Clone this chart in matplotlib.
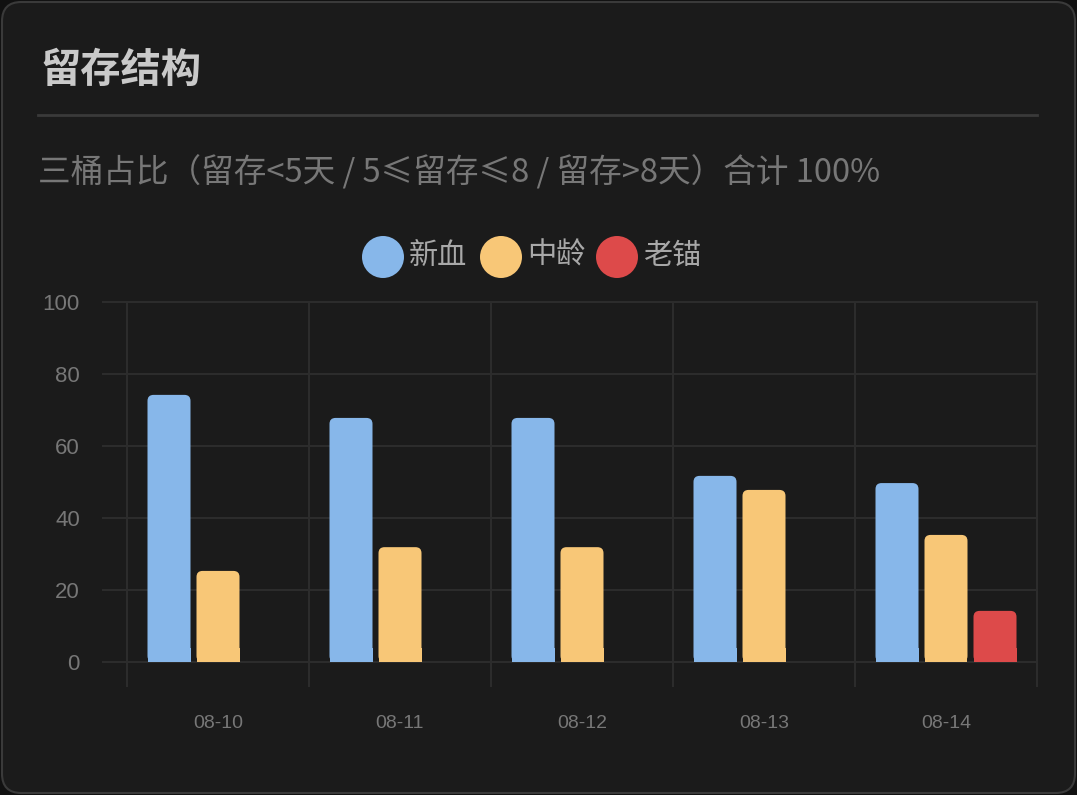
import matplotlib
matplotlib.use("Agg")
import matplotlib.pyplot as plt
from matplotlib.patches import FancyBboxPatch, Rectangle, Ellipse
from matplotlib.lines import Line2D

plt.rcParams['font.family'] = ['Noto Sans CJK SC', 'DejaVu Sans']

dates = ["08-10", "08-11", "08-12", "08-13", "08-14"]
series_names = ["新血", "中龄", "老锚"]
xinxue = [74.2, 67.8, 67.8, 51.7, 49.7]
zhongling = [25.3, 31.9, 31.9, 47.8, 35.3]
laomao = [0, 0, 0, 0, 14.2]
colors = ["#87b7ea", "#f8c777", "#dd4a4a"]

W, H = 1077, 795
fig = plt.figure(figsize=(W / 100, H / 100), dpi=100)
fig.patch.set_facecolor("#111111")

def fx(px):
    return px / W

def fy(py):
    return 1 - py / H

# card
fig.add_artist(FancyBboxPatch((fx(2), fy(793)), fx(1073), 791 / H,
                              boxstyle="round,pad=0,rounding_size=0.018",
                              transform=fig.transFigure, facecolor="#1b1b1b",
                              edgecolor="#3a3a3a", linewidth=1.5,
                              mutation_aspect=W / H, zorder=-5))
fig.text(fx(40), fy(70), "留存结构", fontsize=29, fontweight="bold",
         color="#c9c9c9", va="center", ha="left")
fig.add_artist(Line2D([fx(38), fx(1037)], [fy(115), fy(115)],
                      color="#3a3a3a", linewidth=2, transform=fig.transFigure))
fig.text(fx(38), fy(172), "三桶占比（留存<5天 / 5≤留存≤8 / 留存>8天）合计 100%",
         fontsize=23.5, color="#777777", va="center", ha="left")

# legend
leg_x = [383, 501, 617]
for x, name, c in zip(leg_x, series_names, colors):
    fig.add_artist(Ellipse((fx(x), fy(257)), 42 / W, 42 / H,
                           transform=fig.transFigure, facecolor=c, edgecolor="none"))
    fig.text(fx(x + 26), fy(256), name, fontsize=21, color="#a8a8a8",
             va="center", ha="left")

ax = fig.add_axes([fx(127), fy(662), fx(1037) - fx(127), (662 - 302) / H])
ax.set_facecolor("none")
ax.set_xlim(-0.5, len(dates) - 0.5)
ax.set_ylim(0, 100)
for s in ax.spines.values():
    s.set_visible(False)

step = 49 / 182
bw = 43 / 182
xper = 5 / 910
yper = 100 / 360
for i, (vals, c) in enumerate(zip([xinxue, zhongling, laomao], colors)):
    for j, v in enumerate(vals):
        if v <= 0:
            continue
        x0 = j + (i - 1) * step - bw / 2
        ax.add_patch(FancyBboxPatch((x0, 0), bw, v,
                                    boxstyle="round,pad=0,rounding_size=%f" % (6 * xper),
                                    mutation_aspect=yper / xper,
                                    facecolor=c, edgecolor="none", zorder=3))
        ax.add_patch(Rectangle((x0, 0), bw, min(v, 4), facecolor=c,
                               edgecolor="none", zorder=3))

grid_c = "#2c2c2c"
for y in range(0, 101, 20):
    ax.add_line(Line2D([-0.5 - 24 * xper, 4.5], [y, y], color=grid_c,
                       linewidth=1.5, clip_on=False, zorder=1))
for b in [k - 0.5 for k in range(len(dates) + 1)]:
    ax.add_line(Line2D([b, b], [-24 * yper, 100], color=grid_c,
                       linewidth=1.5, clip_on=False, zorder=1))

ax.set_yticks(range(0, 101, 20))
ax.set_yticklabels([str(v) for v in range(0, 101, 20)], family="Liberation Sans",
                   fontsize=16, color="#777777")
ax.tick_params(axis="y", length=0, pad=34)
ax.set_xticks(range(len(dates)))
ax.set_xticklabels(dates, family="Liberation Sans", fontsize=14, color="#777777")
ax.tick_params(axis="x", length=0, pad=38)

fig.savefig("out.png", dpi=100, facecolor=fig.get_facecolor())
